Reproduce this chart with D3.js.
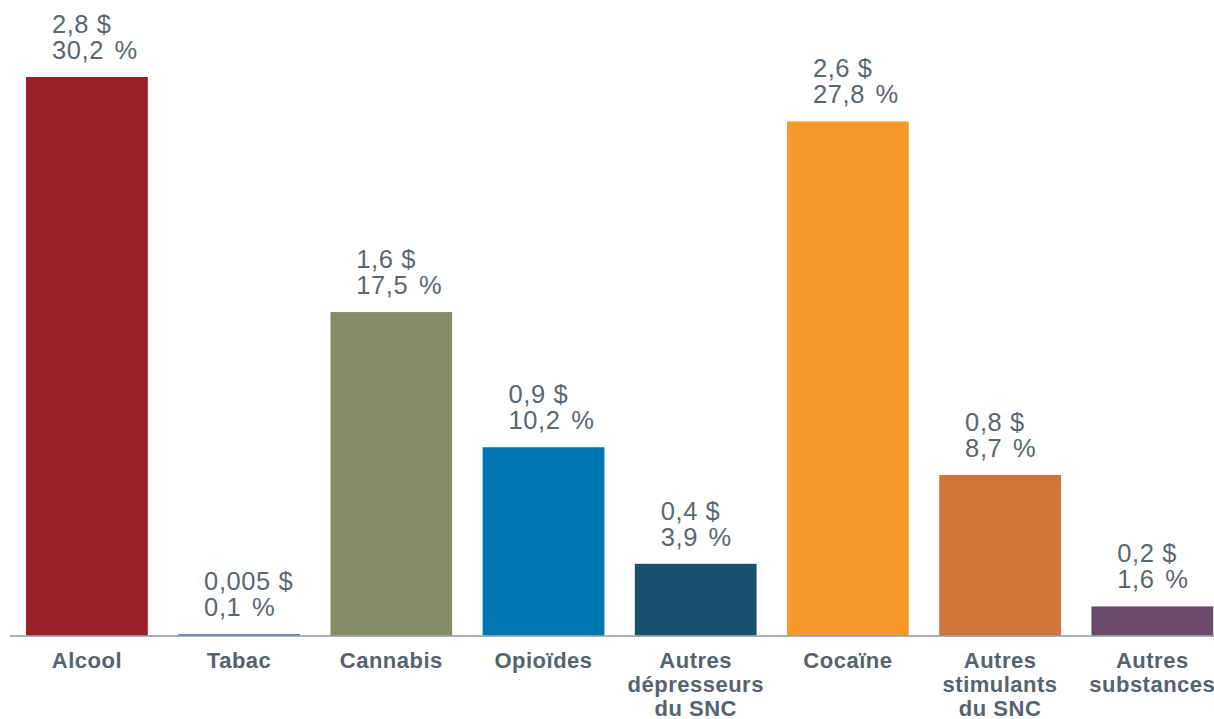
<!DOCTYPE html>
<html><head><meta charset="utf-8">
<script src="https://cdn.jsdelivr.net/npm/d3@7"></script>
<style>body{margin:0;background:#fff}svg{display:block}</style>
</head><body>
<svg id="c" width="1214" height="719"></svg>
<script>
const categories = [["Alcool"],["Tabac"],["Cannabis"],["Opioïdes"],["Autres","dépresseurs","du SNC"],["Cocaïne"],["Autres","stimulants","du SNC"],["Autres","substances"]];
const dollars = ["2,8 $","0,005 $","1,6 $","0,9 $","0,4 $","2,6 $","0,8 $","0,2 $"];
const percents = [30.2,0.1,17.5,10.2,3.9,27.8,8.7,1.6];
const colors = ["#961f28","#4d6b9a","#838c66","#0077b3","#174f6d","#f59a2a","#d0743c","#6b4a6b"];

const svg = d3.select("#c");
const font = "'Liberation Sans', Arial, Helvetica, sans-serif";
const idx = d3.range(categories.length);
const x = d3.scaleBand().domain(idx).range([10.8, 1228.4]).paddingInner(0.2).paddingOuter(0.1);
const y = d3.scaleLinear().domain([0, 30.2]).range([636, 77]);

svg.selectAll("rect.bar").data(idx).join("rect")
  .attr("class","bar")
  .attr("x", i => x(i)).attr("width", x.bandwidth())
  .attr("y", i => y(percents[i])).attr("height", i => y(0) - y(percents[i]))
  .attr("fill", i => colors[i]);

svg.append("line").attr("x1",10).attr("x2",1214).attr("y1",y(0)).attr("y2",y(0))
  .attr("stroke","#9aa3a8").attr("stroke-width",2).attr("stroke-opacity",0.85);

const fmt = v => String(v).replace(".", ",") + " %";
const lab = svg.selectAll("g.lab").data(idx).join("g").attr("class","lab");
lab.append("text")
  .attr("x", i => x(i) + x.bandwidth()/2 - 35).attr("y", i => y(percents[i]) - 44)
  .attr("font-family", font).attr("font-size", 25.5).attr("letter-spacing", 0.6).attr("fill", "#5a6770")
  .text(i => dollars[i]);
lab.append("text")
  .attr("x", i => x(i) + x.bandwidth()/2 - 35).attr("y", i => y(percents[i]) - 18)
  .attr("font-family", font).attr("font-size", 25.5).attr("letter-spacing", 0.6).attr("fill", "#5a6770")
  .attr("word-spacing", 3)
  .text(i => fmt(percents[i]));

const cat = svg.selectAll("text.cat").data(idx).join("text").attr("class","cat")
  .attr("text-anchor","middle").attr("font-family", font).attr("font-weight","bold")
  .attr("font-size", 22).attr("letter-spacing", 0.5).attr("fill", "#56636d");
cat.each(function(i){
  const t = d3.select(this);
  categories[i].forEach((line, k) => {
    t.append("tspan").attr("x", x(i) + x.bandwidth()/2).attr("y", 668 + k*24).text(line);
  });
});
</script>
</body></html>
